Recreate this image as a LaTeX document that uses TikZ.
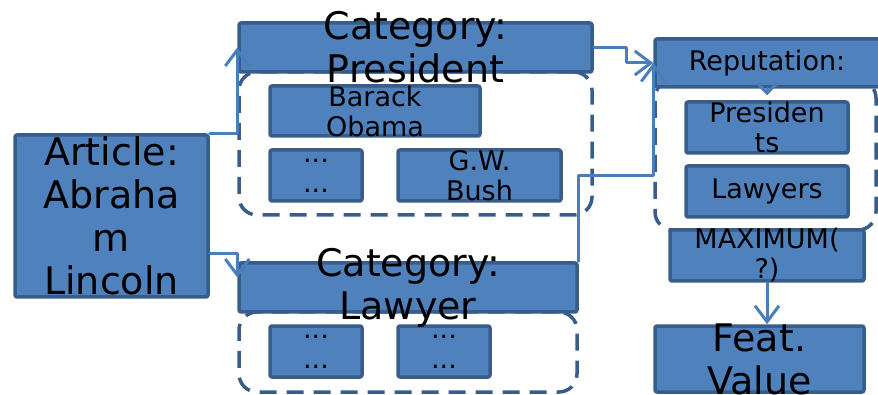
\documentclass[tikz,border=0pt]{standalone}
\usepackage{fontspec}
\setmainfont{DejaVu Sans}
\usetikzlibrary{arrows.meta}
\definecolor{boxfill}{HTML}{4F81BD}
\definecolor{boxline}{HTML}{385D8A}
\definecolor{conncol}{HTML}{4A7EBB}
\begin{document}
\begin{tikzpicture}[x=1pt, y=-1pt, line join=round, line cap=round,
	box/.style={draw=boxline, fill=boxfill, line width=3.5pt, rounded corners=2pt, inner sep=0pt},
	group/.style={draw=boxline, line width=3.5pt, line cap=butt, dash pattern=on 17pt off 10pt, rounded corners=18pt, inner sep=0pt},
	conn/.style={draw=conncol, line width=3pt, -{Straight Barb[length=16pt,width=24pt,line width=3pt]}},
	big/.style={font=\fontsize{38}{43}\selectfont, align=center},
	small/.style={font=\fontsize{27}{30}\selectfont, align=center}]
	\useasboundingbox (0,0) rectangle (878,395);
	% dashed groups
	\node[group, minimum width=353, minimum height=143] (presgrp) at (415.5,143.5) {};
	\node[group, minimum width=338, minimum height=80] (lawgrp) at (408,352) {};
	\node[group, minimum width=221, minimum height=150] (repgrp) at (765.5,155) {};
	% boxes
	\node[box, minimum width=193, minimum height=162] (art) at (111.5,216) {};
	\node[box, minimum width=353, minimum height=49] (pres) at (415.5,47.5) {};
	\node[box, minimum width=210, minimum height=50] (obama) at (375,111) {};
	\node[box, minimum width=92, minimum height=51] (dotsa) at (316,175.5) {};
	\node[box, minimum width=163, minimum height=51] (bush) at (479.5,175.5) {};
	\node[box, minimum width=338, minimum height=49] (law) at (408,287.5) {};
	\node[box, minimum width=92, minimum height=51] (dotsb) at (316,351.5) {};
	\node[box, minimum width=92, minimum height=51] (dotsc) at (444,351.5) {};
	\node[box, minimum width=229, minimum height=48] (rep) at (769.5,63) {};
	\node[box, minimum width=162, minimum height=51] (presd) at (767,127.5) {};
	\node[box, minimum width=162, minimum height=51] (lawy) at (767,191.5) {};
	\node[box, minimum width=194, minimum height=51] (max) at (767,255.5) {};
	\node[box, minimum width=209, minimum height=66] (feat) at (759.5,359) {};
	% texts
	\node[big] (art-t) at (art) {Article:\\Abraha\\m\\Lincoln};
	\node[big] (pres-t) at (pres) {Category:\\President};
	\node[small] (obama-t) at (obama) {Barack\\Obama};
	\node[small] (dotsa-t) at (dotsa) {...\\...};
	\node[small] (bush-t) at (bush) {G.W.\\Bush};
	\node[big] (law-t) at (law) {Category:\\Lawyer};
	\node[small] (dotsb-t) at (dotsb) {...\\...};
	\node[small] (dotsc-t) at (dotsc) {...\\...};
	\node[small] (rep-t) at (767,63) {Reputation:};
	\node[small] (presd-t) at (presd) {Presiden\\ts};
	\node[small] (lawy-t) at (lawy) {Lawyers};
	\node[small] (max-t) at (max) {MAXIMUM(\\?)};
	\node[big] (feat-t) at (feat) {Feat.\\Value};
	% connectors
	\coordinate (bend) at (rep.west |- 0,176);
	\coordinate (jog) at ([xshift=33pt]pres.east);
	\coordinate (lawin) at ([yshift=10pt]law.west);
	\coordinate (artout) at ([yshift=45pt]art.south east);
	\draw[conn] (art.north east) -- (art.north east -| pres.west) -- (pres.west);
	\draw[conn] (artout) -- (artout -| lawin) -- (lawin);
	\draw[conn] (pres.east) -- (jog) -- (jog |- rep.west) -- (rep.west);
	\draw[conn] (law.north east) -- (law.north east |- bend) -- (bend) -- (rep.west);
	\draw[conn, -{Straight Barb[length=10pt,width=20pt,line width=3pt]}] (rep.south -| presd.north) -- ([yshift=5pt]presd.north);
	\draw[conn] (max.south) -- (max.south |- feat.north);
\end{tikzpicture}
\end{document}
